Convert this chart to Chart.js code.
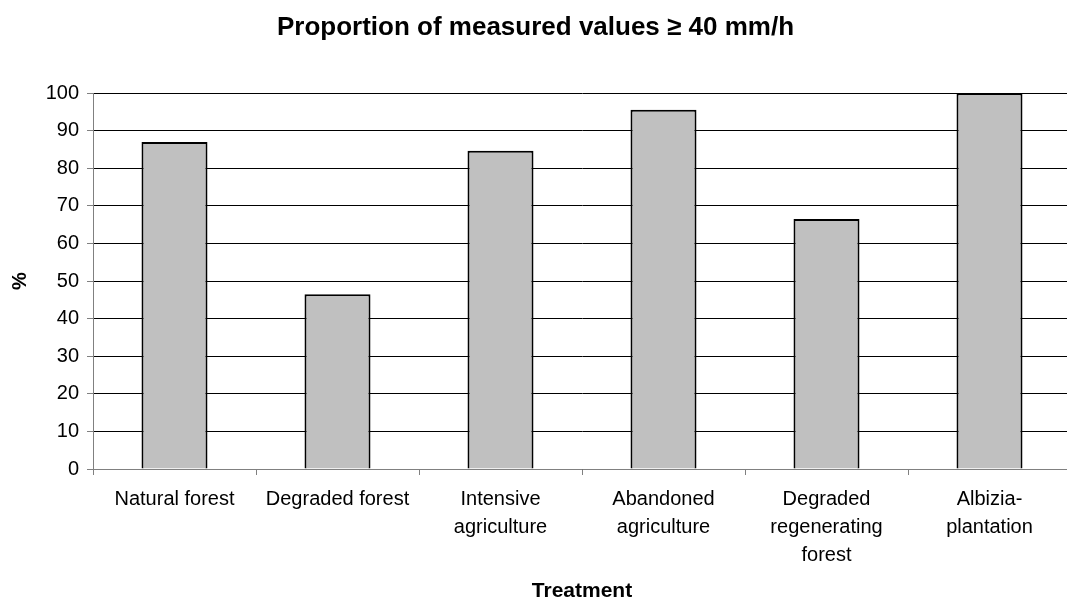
<!DOCTYPE html>
<html>
<head>
<meta charset="utf-8">
<script src="https://cdn.jsdelivr.net/npm/chart.js@4.4.1/dist/chart.umd.min.js"></script>
<style>
  html, body { margin: 0; padding: 0; background: #ffffff; overflow: hidden; }
  #chartProportion { display: block; }
</style>
</head>
<body>
<canvas id="chartProportion" width="1075" height="608"></canvas>
<script>
// Treatments (x categories) and percentage of measured values >= 40 mm/h
const treatments = [
  'Natural forest',
  'Degraded forest',
  ['Intensive', 'agriculture'],
  ['Abandoned', 'agriculture'],
  ['Degraded', 'regenerating', 'forest'],
  ['Albizia-', 'plantation']
];
const proportions = [87.0, 46.5, 84.7, 95.6, 66.5, 100];
const yTicks = [0, 10, 20, 30, 40, 50, 60, 70, 80, 90, 100];

const ctx = document.getElementById('chartProportion').getContext('2d');

new Chart(ctx, {
  type: 'bar',
  data: {
    labels: treatments,
    datasets: [{
      label: '%',
      data: proportions,
      backgroundColor: '#c0c0c0',
      borderColor: '#000000',
      borderWidth: 2,
      categoryPercentage: 1,
      barPercentage: 0.405
    }]
  },
  options: {
    responsive: false,
    animation: false,
    devicePixelRatio: 1,
    layout: { padding: { left: 0, right: 4, top: 0, bottom: 0 } },
    plugins: {
      legend: { display: false },
      tooltip: { enabled: false },
      title: {
        display: true,
        text: 'Proportion of measured values \u2265 40 mm/h',
        color: '#000000',
        font: { family: 'Liberation Sans, Arial, sans-serif', size: 26, weight: 'bold', lineHeight: 1.2 },
        padding: { top: 12, bottom: 50 }
      }
    },
    scales: {
      x: {
        offset: true,
        grid: {
          offset: true,
          drawOnChartArea: false,
          drawTicks: true,
          tickLength: 6,
          color: '#808080'
        },
        border: { color: '#808080', width: 1 },
        ticks: {
          color: '#000000',
          maxRotation: 0,
          autoSkip: false,
          padding: 11,
          font: { family: 'Liberation Sans, Arial, sans-serif', size: 20, lineHeight: 1.38 }
        },
        title: {
          display: true,
          text: 'Treatment',
          color: '#000000',
          font: { family: 'Liberation Sans, Arial, sans-serif', size: 21, weight: 'bold', lineHeight: 1.2 },
          padding: { top: 4, bottom: 4 }
        },
        afterFit: scale => { scale.height = 139; }
      },
      y: {
        min: 0,
        max: 100,
        afterBuildTicks: scale => { scale.ticks = yTicks.map(v => ({ value: v })); },
        grid: {
          color: '#000000',
          lineWidth: 1,
          tickLength: 6,
          tickColor: '#808080'
        },
        border: { color: '#808080', width: 1 },
        ticks: {
          color: '#000000',
          padding: 8,
          font: { family: 'Liberation Sans, Arial, sans-serif', size: 20 }
        },
        title: {
          display: true,
          text: '%',
          color: '#000000',
          font: { family: 'Liberation Sans, Arial, sans-serif', size: 20, weight: 'bold' },
          padding: { top: 8, bottom: 0 }
        },
        afterFit: scale => { scale.width = 93; }
      }
    }
  }
});
</script>
</body>
</html>
